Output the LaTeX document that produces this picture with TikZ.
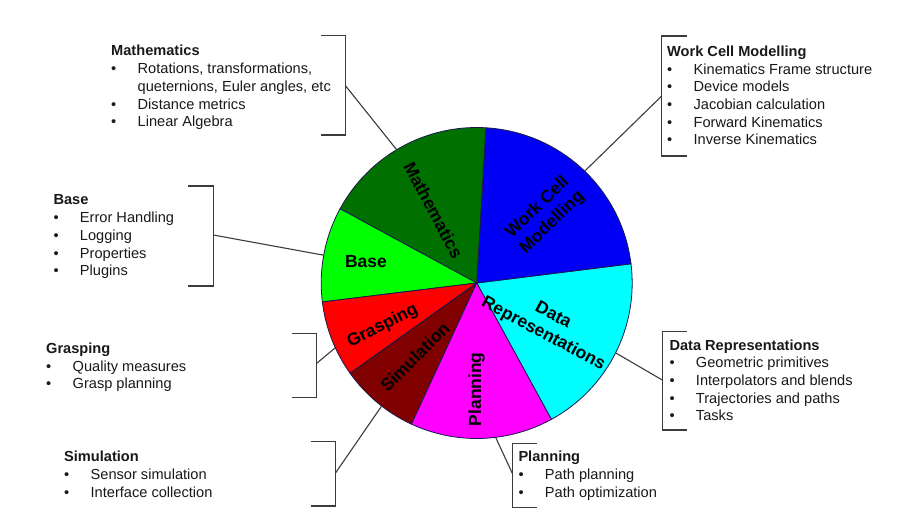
\documentclass[tikz,border=0pt]{standalone}
\usepackage{fontspec}
\setmainfont{Liberation Sans}
\usetikzlibrary{calc}
\definecolor{cdata}{RGB}{0,255,255}
\definecolor{cwork}{RGB}{0,0,245}
\definecolor{cmath}{RGB}{0,112,0}
\definecolor{cbase}{RGB}{0,255,0}
\definecolor{cgrasp}{RGB}{255,0,0}
\definecolor{csim}{RGB}{128,0,0}
\definecolor{cplan}{RGB}{255,0,255}
\definecolor{edge}{RGB}{25,25,75}
\definecolor{lgray}{RGB}{60,60,60}
\definecolor{txt}{RGB}{25,25,25}
\newcommand\bul{\textbullet}
\newcommand\sidelist[2]{\begin{tabular}[t]{@{}p{26.5pt}@{}l@{}}\multicolumn{2}{@{}l@{}}{\textbf{#1}}\\#2\end{tabular}}
\newcommand\pieslice[3]{\filldraw[slice, fill=#1] (O) -- ++(#2:155.5pt) arc[start angle=#2, end angle=#3, radius=155.5pt] -- cycle;}
\begin{document}
\begin{tikzpicture}[x=1pt,y=-1pt,
  slice/.style={draw=edge, line width=0.8pt, line join=round},
  plabel/.style={font=\fontsize{17.5}{21}\selectfont\bfseries, text=black, align=center, inner sep=0pt},
  sidetext/.style={font=\fontsize{14.6}{17.7}\selectfont, text=txt, inner sep=0pt, anchor=base west},
  bracket/.style={draw=lgray, line width=1.2pt},
  conn/.style={draw=lgray, line width=1.1pt},
]
\path[use as bounding box] (0,0) rectangle (911,513);
\fill[white] (0,0) rectangle (911,513);

% ---- pie ----
\coordinate (O) at (476.7,283);
\pieslice{cdata}{-61.3}{7.1}
\pieslice{cwork}{7.1}{86.6}
\pieslice{cmath}{86.6}{151.5}
\pieslice{cbase}{151.5}{187}
\pieslice{cgrasp}{187}{215.5}
\pieslice{csim}{215.5}{245.2}
\pieslice{cplan}{245.2}{298.7}

\node[plabel, rotate=-62] (lmath) at (433.5,210) {Mathematics};
\node[plabel, rotate=44] (lwork) at (545,215) {Work Cell\\Modelling};
\node[plabel, rotate=-28] (ldata) at (548,325) {Data\\Representations};
\node[plabel] (lbase) at (366,262) {Base};
\node[plabel, rotate=27] (lgrasp) at (382.7,326) {Grasping};
\node[plabel, rotate=45] (lsim) at (415,356.7) {Simulation};
\node[plabel, rotate=90] (lplan) at (476.7,389.3) {Planning};

% ---- pie anchor points ----
\coordinate (pmath)  at ($(O)+(121:155.5pt)$);
\coordinate (pwork)  at ($(O)+(46:155.5pt)$);
\coordinate (pbase)  at ($(O)+(169.7:155.5pt)$);
\coordinate (pgrasp) at ($(O)+(204.6:155.5pt)$);
\coordinate (psim)   at ($(O)+(232.3:155.5pt)$);
\coordinate (pplan)  at ($(O)+(-83:155.5pt)$);
\coordinate (pdata)  at ($(O)+(-26.7:155.5pt)$);

% ---- brackets ----
\draw[bracket] (320.7,35.7) -- (345.7,35.7) -- (345.7,135) -- (320.7,135);
\coordinate (bmath) at (345.7,86);
\draw[bracket] (686.7,36) -- (661.7,36) -- (661.7,156) -- (686.7,156);
\coordinate (bwork) at (661.7,96);
\draw[bracket] (188.3,186) -- (213.3,186) -- (213.3,286) -- (188.3,286);
\coordinate (bbase) at (213.3,235);
\draw[bracket] (291.7,333.3) -- (316.7,333.3) -- (316.7,397.7) -- (291.7,397.7);
\coordinate (bgrasp) at (316.7,363.3);
\draw[bracket] (310.7,441.7) -- (335.7,441.7) -- (335.7,506) -- (310.7,506);
\coordinate (bsim) at (335.7,472.7);
\draw[bracket] (536.7,443.3) -- (512.3,443.3) -- (512.3,507.5) -- (536.7,507.5);
\coordinate (bplan) at (512.3,473.3);
\draw[bracket] (686.7,331.7) -- (662.3,331.7) -- (662.3,430) -- (686.7,430);
\coordinate (bdata) at (662.3,380);

% ---- connectors ----
\draw[conn] (bmath) -- (pmath);
\draw[conn] (bwork) -- (pwork);
\draw[conn] (bbase) -- (pbase);
\draw[conn] (bgrasp) -- (pgrasp);
\draw[conn] (bsim) -- (psim);
\draw[conn] (bplan) -- (pplan);
\draw[conn] (bdata) -- (pdata);

% ---- side texts ----
\node[sidetext] (tmath) at (111,56) {\sidelist{Mathematics}{\bul & Rotations, transformations,\\ & queternions, Euler angles, etc\\ \bul & Distance metrics\\ \bul & Linear Algebra}};
\node[sidetext] (twork) at (667,56.5) {\sidelist{Work Cell Modelling}{\bul & Kinematics Frame structure\\ \bul & Device models\\ \bul & Jacobian calculation\\ \bul & Forward Kinematics\\ \bul & Inverse Kinematics}};
\node[sidetext] (tbase) at (53.3,205) {\sidelist{Base}{\bul & Error Handling\\ \bul & Logging\\ \bul & Properties\\ \bul & Plugins}};
\node[sidetext] (tgrasp) at (46,353.3) {\sidelist{Grasping}{\bul & Quality measures\\ \bul & Grasp planning}};
\node[sidetext] (tsim) at (64,461.7) {\sidelist{Simulation}{\bul & Sensor simulation\\ \bul & Interface collection}};
\node[sidetext] (tplan) at (518.3,461.7) {\sidelist{Planning}{\bul & Path planning\\ \bul & Path optimization}};
\node[sidetext] (tdata) at (669.3,350) {\sidelist{Data Representations}{\bul & Geometric primitives\\ \bul & Interpolators and blends\\ \bul & Trajectories and paths\\ \bul & Tasks}};
\end{tikzpicture}
\end{document}
